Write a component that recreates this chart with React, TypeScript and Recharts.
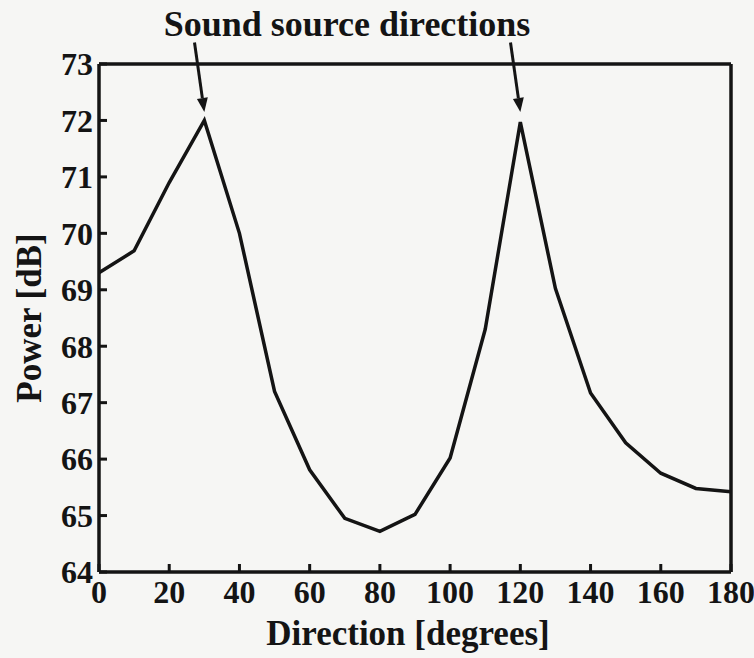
import React from 'react';
import { LineChart, Line, XAxis, YAxis, ReferenceLine, Customized } from 'recharts';

const directions = [0, 10, 20, 30, 40, 50, 60, 70, 80, 90, 100, 110, 120, 130, 140, 150, 160, 170, 180];
const power = [69.3, 69.69, 70.9, 72.0, 70.0, 67.2, 65.81, 64.95, 64.72, 65.02, 66.02, 68.3, 71.97, 69.02, 67.17, 66.29, 65.75, 65.48, 65.42];
const xTicks = [0, 20, 40, 60, 80, 100, 120, 140, 160, 180];
const yTicks = [64, 65, 66, 67, 68, 69, 70, 71, 72, 73];
const sourceDirections = [30, 120];
const annotationText = 'Sound source directions';
const xTitle = 'Direction [degrees]';
const yTitle = 'Power [dB]';

const data = directions.map((d, i) => ({ dir: d, power: power[i] }));

const FONT = '"Liberation Serif", "Times New Roman", serif';
const INK = '#141414';

const ArrowShape = (props: any) => {
  const { x1, y1, x2, y2 } = props;
  if ([x1, y1, x2, y2].some((v) => typeof v !== 'number' || isNaN(v))) return null;
  const dx = x2 - x1;
  const dy = y2 - y1;
  const len = Math.sqrt(dx * dx + dy * dy);
  const ux = dx / len;
  const uy = dy / len;
  const headLen = 14;
  const headW = 5.5;
  const bx = x2 - ux * headLen;
  const by = y2 - uy * headLen;
  const px = -uy;
  const py = ux;
  return (
    <g>
      <line x1={x1} y1={y1} x2={bx} y2={by} stroke={INK} strokeWidth={3} />
      <polygon
        points={`${x2},${y2} ${bx + px * headW},${by + py * headW} ${bx - px * headW},${by - py * headW}`}
        fill={INK}
      />
    </g>
  );
};

const Title = () => (
  <text x={347} y={36} textAnchor="middle" fontFamily={FONT} fontWeight="bold" fontSize={36} fill={INK}>
    {annotationText}
  </text>
);

const YTitle = () => (
  <text
    x={41}
    y={318}
    textAnchor="middle"
    transform="rotate(-90 41 318)"
    fontFamily={FONT}
    fontWeight="bold"
    fontSize={35}
    fill={INK}
  >
    {yTitle}
  </text>
);

const XTitle = () => (
  <text x={408} y={645} textAnchor="middle" fontFamily={FONT} fontWeight="bold" fontSize={35} fill={INK}>
    {xTitle}
  </text>
);

export default function App() {
  const tickStyle = { fontFamily: FONT, fontWeight: 'bold', fontSize: 32, fill: INK };
  return (
    <div style={{ position: 'absolute', left: 0, top: 0, width: 754, height: 658, background: '#f6f6f4' }}>
      <LineChart width={754} height={658} data={data} margin={{ top: 64, right: 23, left: 0, bottom: 0 }}>
        <XAxis
          dataKey="dir"
          type="number"
          domain={[0, 180]}
          ticks={xTicks}
          interval={0}
          height={86}
          axisLine={{ stroke: INK, strokeWidth: 3.5 }}
          tickLine={{ stroke: INK, strokeWidth: 3 }}
          tickSize={-8}
          tickMargin={16}
          tick={tickStyle}
        />
        <YAxis
          type="number"
          domain={[64, 73]}
          ticks={yTicks}
          interval={0}
          width={99}
          axisLine={{ stroke: INK, strokeWidth: 3.5 }}
          tickLine={{ stroke: INK, strokeWidth: 3 }}
          tickSize={-8}
          tickMargin={14}
          tick={tickStyle}
        />
        <ReferenceLine y={73} stroke={INK} strokeWidth={3.5} />
        <ReferenceLine x={180} stroke={INK} strokeWidth={3.5} />
        <Line
          type="linear"
          dataKey="power"
          stroke={INK}
          strokeWidth={3.5}
          dot={false}
          activeDot={false}
          isAnimationActive={false}
        />
        {sourceDirections.map((d) => (
          <ReferenceLine
            key={d}
            segment={[
              { x: d - 2.8, y: 73.38 },
              { x: d, y: 72.15 },
            ]}
            ifOverflow="visible"
            shape={ArrowShape}
          />
        ))}
        <Customized component={Title} />
        <Customized component={YTitle} />
        <Customized component={XTitle} />
      </LineChart>
    </div>
  );
}
